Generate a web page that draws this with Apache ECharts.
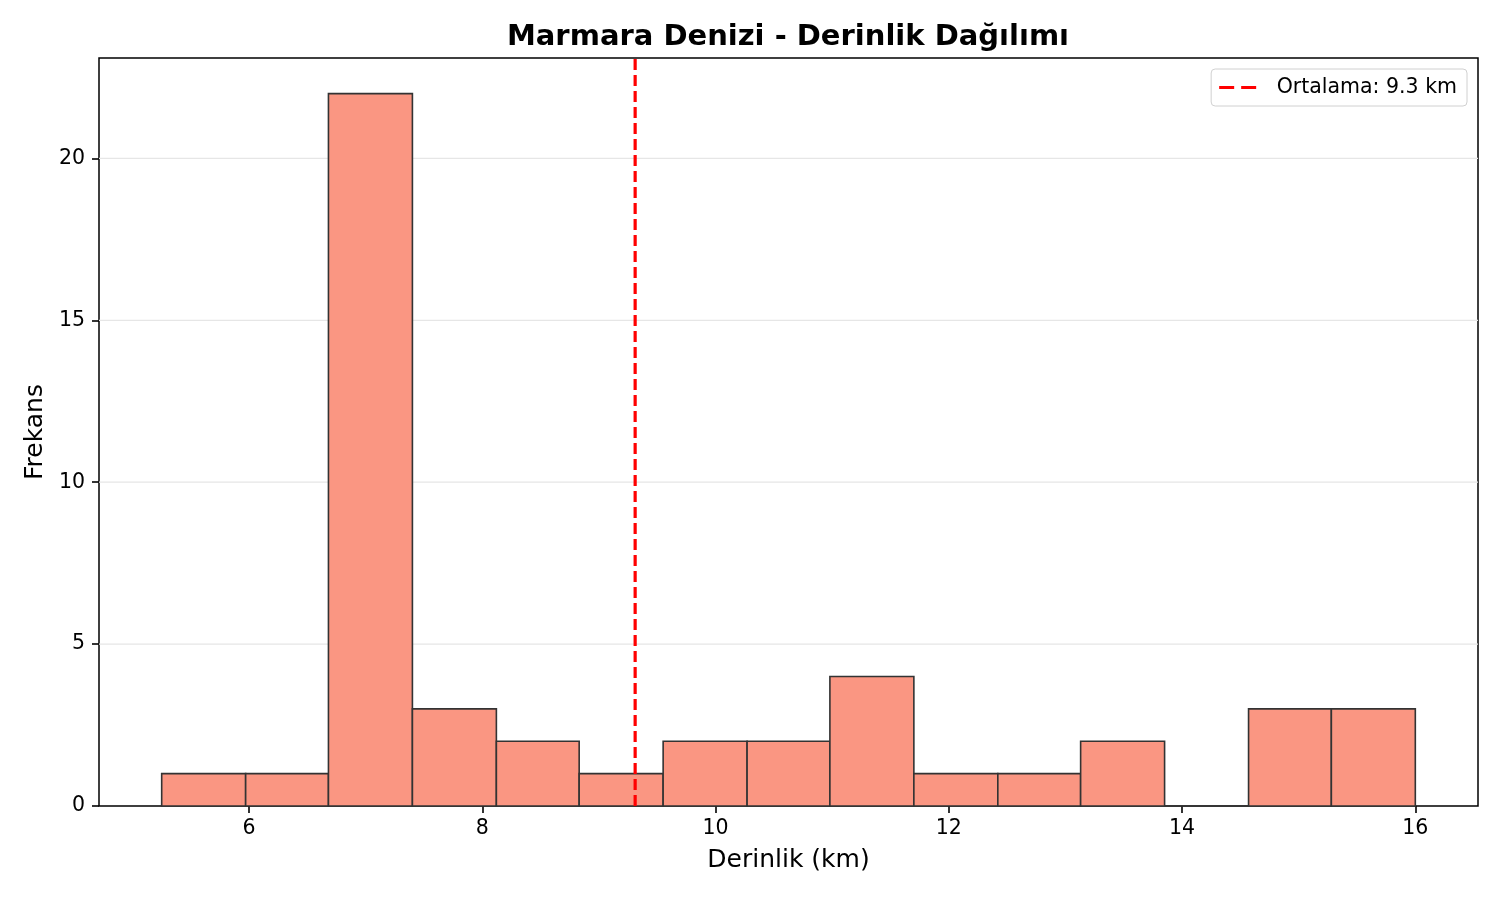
<!DOCTYPE html>
<html>
<head>
<meta charset="utf-8">
<script src="https://cdn.jsdelivr.net/npm/echarts@6/dist/echarts.min.js"></script>
<style>
  html, body { margin: 0; padding: 0; background: #fff; }
  #chart { width: 1500px; height: 900px; }
</style>
</head>
<body>
<div id="chart"></div>
<script>
// histogram bins (km) and counts
const binEdges = [5.25, 5.97, 6.68, 7.40, 8.12, 8.83, 9.55, 10.27, 10.98, 11.70, 12.42, 13.13, 13.85, 14.57, 15.28, 16.00];
const counts = [1, 1, 22, 3, 2, 1, 2, 2, 4, 1, 1, 2, 0, 3, 3];
const meanDepth = 9.31;
const xTicks = [6, 8, 10, 12, 14, 16];
const yTicks = [0, 5, 10, 15, 20];

const bars = counts.map((c, i) => [binEdges[i], binEdges[i + 1], c]);
const font = 'DejaVu Sans';
const xMin = 4.7125, xMax = 16.5375, yMax = 23.1;

const chart = echarts.init(document.getElementById('chart'));

chart.setOption({
  animation: false,
  textStyle: { fontFamily: font },
  title: {
    text: 'Marmara Denizi - Derinlik Dağılımı',
    left: 788, top: 23, textAlign: 'center', padding: 0,
    textStyle: { fontFamily: font, fontSize: 29, fontWeight: 'bold', color: '#000' }
  },
  legend: {
    right: 33, top: 69,
    padding: [8, 10, 8, 8],
    itemWidth: 38, itemHeight: 3, itemGap: 10,
    icon: 'path://M0,0H15V3H0Z M22,0H37V3H22Z',
    borderColor: '#d0d0d0', borderWidth: 1, borderRadius: 4,
    textStyle: { fontFamily: font, fontSize: 20.5, color: '#000', padding: [0, 0, 0, 15] },
    data: ['Ortalama: 9.3 km']
  },
  grid: {
    left: 99, right: 22, top: 58, bottom: 94,
    show: true, borderColor: '#000', borderWidth: 1.5, backgroundColor: 'transparent'
  },
  xAxis: {
    type: 'value', min: xMin, max: xMax,
    name: 'Derinlik (km)', nameLocation: 'middle', nameGap: 42,
    nameTextStyle: { fontFamily: font, fontSize: 25, color: '#000' },
    axisLine: { show: false },
    axisTick: { show: true, inside: false, length: 7, customValues: xTicks, lineStyle: { color: '#000', width: 1.6 } },
    axisLabel: { customValues: xTicks, fontFamily: font, fontSize: 20.5, color: '#000', margin: 12 },
    splitLine: { show: false }
  },
  yAxis: {
    type: 'value', min: 0, max: yMax,
    name: 'Frekans', nameLocation: 'middle', nameGap: 45,
    nameTextStyle: { fontFamily: font, fontSize: 25, color: '#000' },
    axisLine: { show: false },
    axisTick: { show: true, inside: false, length: 7, customValues: yTicks, lineStyle: { color: '#000', width: 1.6 } },
    axisLabel: { customValues: yTicks, fontFamily: font, fontSize: 20.5, color: '#000', margin: 14 },
    splitLine: { show: false }
  },
  series: [
    {
      // horizontal grid lines drawn behind bars
      type: 'custom',
      silent: true,
      z: 1,
      data: yTicks.slice(1),
      renderItem: function (params, api) {
        const y = api.value(0);
        const p0 = api.coord([xMin, y]);
        const p1 = api.coord([xMax, y]);
        return {
          type: 'line',
          shape: { x1: p0[0], y1: p0[1], x2: p1[0], y2: p1[1] },
          style: { stroke: '#e6e6e6', lineWidth: 1.2 }
        };
      }
    },
    {
      type: 'custom',
      z: 2,
      data: bars,
      encode: { x: [0, 1], y: 2 },
      renderItem: function (params, api) {
        const a = api.coord([api.value(0), api.value(2)]);
        const b = api.coord([api.value(1), 0]);
        return {
          type: 'rect',
          shape: { x: a[0], y: a[1], width: b[0] - a[0], height: b[1] - a[1] },
          style: { fill: '#fa9682', stroke: '#333333', lineWidth: 1.6 }
        };
      }
    },
    {
      name: 'Ortalama: 9.3 km',
      type: 'line',
      z: 5,
      symbol: 'none',
      data: [[meanDepth, 0], [meanDepth, yMax]],
      lineStyle: { color: '#ff0000', width: 3.2, type: [11, 5] },
      itemStyle: { color: '#ff0000' }
    }
  ]
});
</script>
</body>
</html>
